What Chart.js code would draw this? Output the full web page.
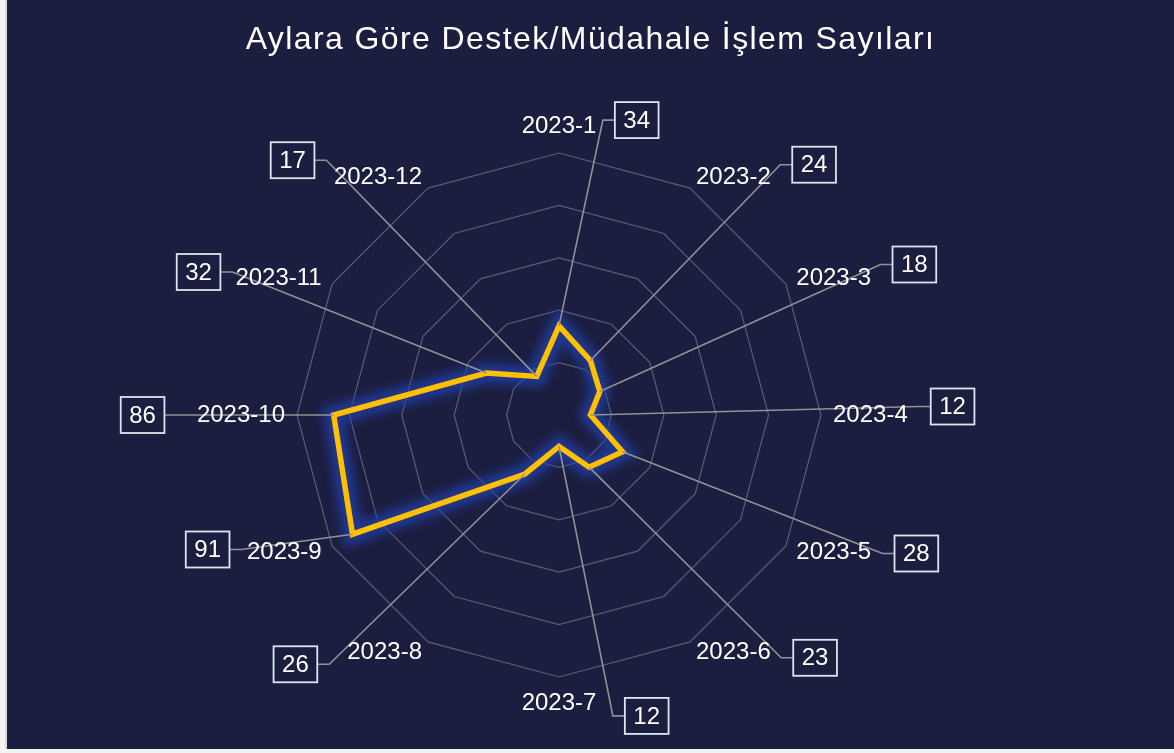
<!DOCTYPE html>
<html lang="tr">
<head>
<meta charset="utf-8">
<title>Aylara Göre Destek/Müdahale İşlem Sayıları</title>
<script src="https://cdn.jsdelivr.net/npm/chart.js@4.4.1/dist/chart.umd.min.js"></script>
<style>
    html, body { margin: 0; padding: 0; background: #f3f3f3; }
    body { width: 1174px; height: 753px; overflow: hidden; position: relative; }
    #wrap { position: absolute; left: 5px; top: 0; width: 1167px; height: 749px; border-left: 2px solid #d9d9d9; }
    canvas { display: block; }
</style>
</head>
<body>
<div id="wrap"><canvas id="chart" width="1167" height="749"></canvas></div>
<script>
// data
const months = ["2023-1", "2023-2", "2023-3", "2023-4", "2023-5", "2023-6",
                "2023-7", "2023-8", "2023-9", "2023-10", "2023-11", "2023-12"];
const counts = [34, 24, 18, 12, 28, 23, 12, 26, 91, 86, 32, 17];
const titleText = "Aylara Göre Destek/Müdahale İşlem Sayıları";

// where each value box sits next to its month label (gap from label edge, vertical shift)
const calloutGap = [18.5, 21.5, 21.5, 23, 23.5, 22.5, 28.5, 30, 17.5, 32.5, 15, 19.5];
const calloutDy = [-6.5, -13, -13.5, -8.5, 1.5, 5.5, 12.5, 12, -2.5, 0, -6, -17.5];

const bgColor = "#1c1e40";
const fontFamily = "'Liberation Sans', Arial, sans-serif";
const labelGap = 12;

document.addEventListener("DOMContentLoaded", function () {

    const background = {
        id: "background",
        beforeDraw(chart) {
            const ctx = chart.ctx;
            ctx.save();
            ctx.fillStyle = bgColor;
            ctx.fillRect(0, 0, chart.width, chart.height);

            // title
            ctx.font = "32px " + fontFamily;
            ctx.letterSpacing = "1.4px";
            ctx.fillStyle = "#ffffff";
            ctx.textAlign = "center";
            ctx.textBaseline = "middle";
            ctx.fillText(titleText, chart.width / 2, 40);
            ctx.restore();
        }
    };

    // soft blue halo under the yellow line
    const glow = {
        id: "glow",
        beforeDatasetDraw(chart, args) {
            const ctx = chart.ctx;
            ctx.save();
            if (args.index === 1) {
                ctx.filter = "blur(5px)";
            }
        },
        afterDatasetDraw(chart) {
            chart.ctx.restore();
        }
    };

    const callouts = {
        id: "callouts",
        afterDatasetsDraw(chart) {
            const ctx = chart.ctx;
            const scale = chart.scales.r;
            const points = chart.getDatasetMeta(0).data;
            const lineH = 24 * 1.2;

            ctx.save();
            ctx.font = "24px " + fontFamily;

            const items = months.map(function (label, i) {
                const pos = scale.getPointPosition(i, scale.drawingArea + labelGap);
                const deg = Math.round(scale.getIndexAngle(i) * 180 / Math.PI) % 360;
                const w = ctx.measureText(label).width;
                let left = pos.x;
                let midY = pos.y;
                if (deg === 0) {
                    left = pos.x - w / 2;
                    midY = pos.y - lineH / 2;
                } else if (deg === 180) {
                    left = pos.x - w / 2;
                    midY = pos.y + lineH / 2;
                } else if (deg > 180) {
                    left = pos.x - w;
                }
                const onLeft = deg > 180;
                const text = String(counts[i]);
                const bw = ctx.measureText(text).width + 17;
                const bh = 36;
                const boxY = midY + calloutDy[i];
                let boxX, elbowX, edgeX;
                if (onLeft) {
                    edgeX = left - calloutGap[i];
                    boxX = edgeX - bw;
                    elbowX = edgeX + 12;
                } else {
                    edgeX = left + w + calloutGap[i];
                    boxX = edgeX;
                    elbowX = edgeX - 12;
                }
                return { label, left, midY, text, boxX, boxY, bw, bh, elbowX, edgeX, pt: points[i] };
            });

            // leader lines
            ctx.strokeStyle = "#929296";
            ctx.lineWidth = 1.6;
            items.forEach(function (it) {
                ctx.beginPath();
                ctx.moveTo(it.pt.x, it.pt.y);
                ctx.lineTo(it.elbowX, it.boxY);
                ctx.lineTo(it.edgeX, it.boxY);
                ctx.stroke();
            });

            // month labels
            ctx.fillStyle = "#ffffff";
            ctx.textAlign = "left";
            ctx.textBaseline = "middle";
            items.forEach(function (it) {
                ctx.fillText(it.label, it.left, it.midY);
            });

            // value boxes
            items.forEach(function (it) {
                const top = it.boxY - it.bh / 2;
                ctx.fillStyle = bgColor;
                ctx.fillRect(it.boxX, top, it.bw, it.bh);
                ctx.strokeStyle = "#dce6ee";
                ctx.lineWidth = 1.8;
                ctx.strokeRect(it.boxX, top, it.bw, it.bh);
                ctx.fillStyle = "#ffffff";
                ctx.textAlign = "center";
                ctx.fillText(it.text, it.boxX + it.bw / 2, it.boxY + 1);
                ctx.textAlign = "left";
            });
            ctx.restore();
        }
    };

    const ctx = document.getElementById("chart").getContext("2d");
    const chart = new Chart(ctx, {
        type: "radar",
        data: {
            labels: months,
            datasets: [{
                label: "İşlem Sayısı",
                data: counts,
                borderColor: "#ffc000",
                borderWidth: 5.5,
                fill: false,
                pointRadius: 0,
                pointHoverRadius: 0,
                tension: 0
            }, {
                label: "glow",
                data: counts,
                borderColor: "rgba(32, 62, 165, 0.8)",
                borderWidth: 20,
                fill: false,
                pointRadius: 0,
                pointHoverRadius: 0,
                tension: 0
            }]
        },
        options: {
            responsive: false,
            animation: false,
            layout: {
                padding: { top: 153, right: 63, bottom: 71, left: 0 }
            },
            plugins: {
                legend: { display: false },
                tooltip: { enabled: false },
                title: { display: false }
            },
            scales: {
                r: {
                    min: 0,
                    max: 100,
                    ticks: { display: false, stepSize: 20 },
                    grid: { color: "rgba(255, 255, 255, 0.28)", lineWidth: 1.2 },
                    angleLines: { display: false },
                    pointLabels: { display: false }
                }
            }
        },
        plugins: [background, glow, callouts]
    });
});
</script>
</body>
</html>
